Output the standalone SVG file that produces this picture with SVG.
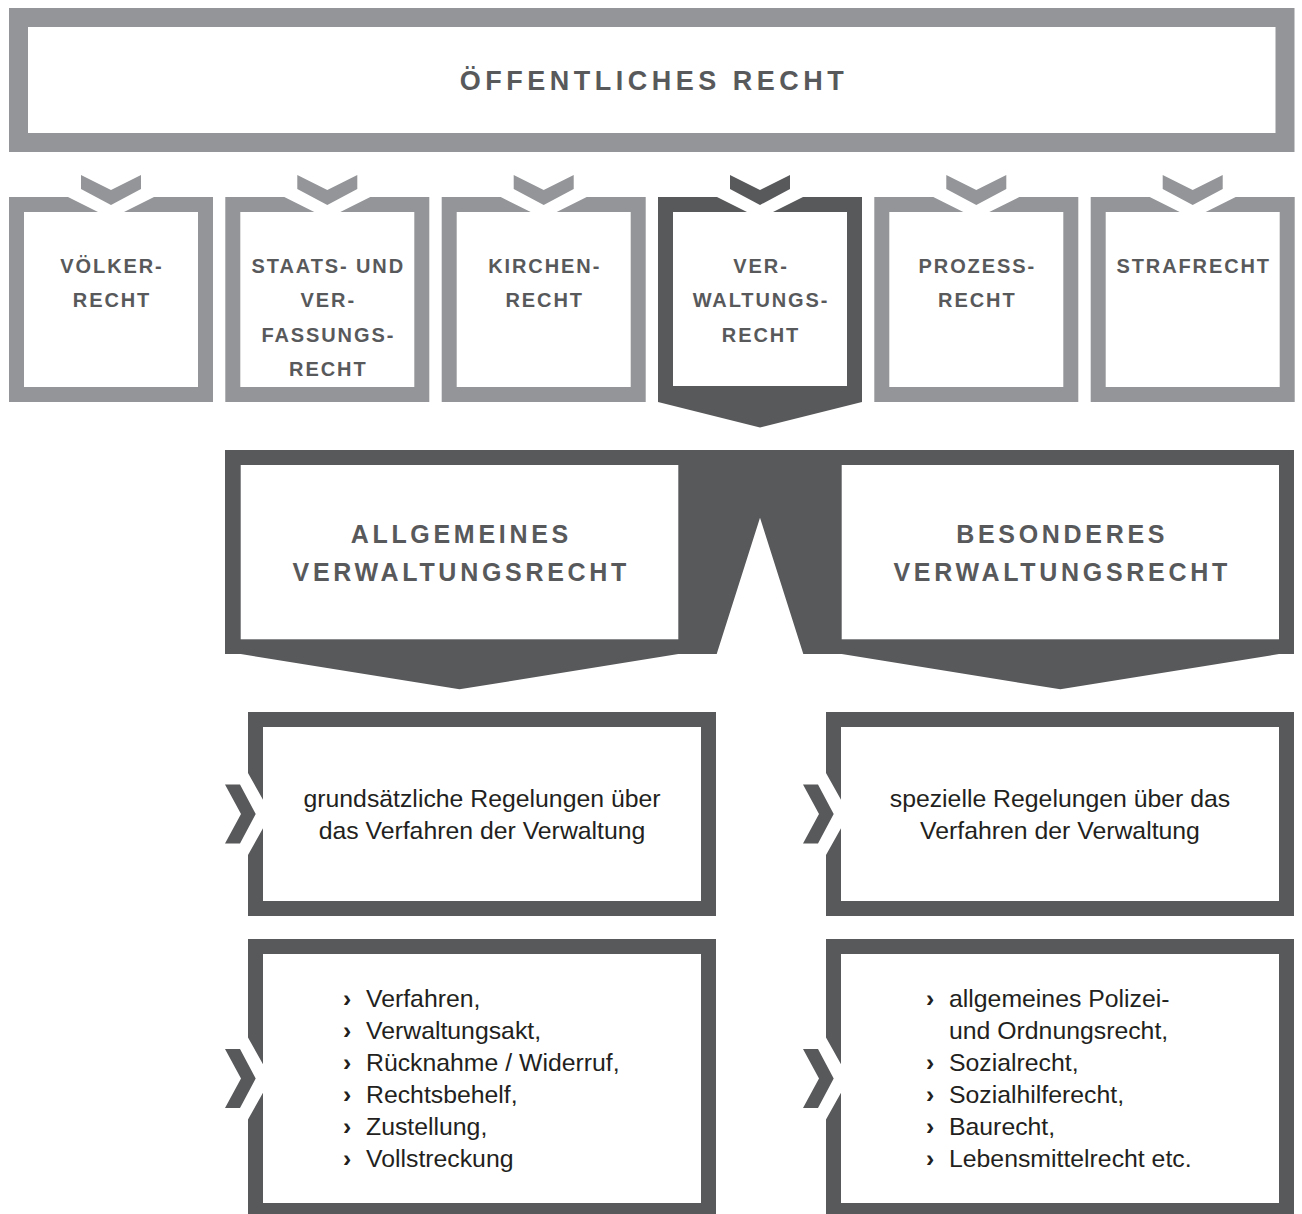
<svg xmlns="http://www.w3.org/2000/svg" width="1302" height="1214" viewBox="0 0 1302 1214">
  <style>
    .gray { fill: #939598; }
    .dark { fill: #58595b; }
    .inner { fill: #ffffff; }
    .cap { font-family: "Liberation Sans", Arial, sans-serif; font-weight: bold; fill: #58595b; text-anchor: middle; }
    .t1 { font-size: 27px; letter-spacing: 4.5px; }
    .t2 { font-size: 20px; letter-spacing: 1.9px; }
    .t3 { font-size: 25px; letter-spacing: 3.7px; }
    .body { font-family: "Liberation Sans", Arial, sans-serif; font-size: 24.8px; fill: #231f20; }
    .mid { text-anchor: middle; }
    .bul { font-weight: bold; }
  </style>
  <defs>
    <!-- chevron above each category box, centred on x=0 -->
    <polygon id="chevDown" points="-30,175 0,190 30,175 30,189 0,205 -30,189"/>
    <!-- chevron to the left of each detail box, centred on y=0, box edge at x=0 -->
    <polygon id="chevRight" points="-23,-29.5 -8,-29.5 7.7,0 -8,29.5 -23,29.5 -7,0"/>
  </defs>

  <!-- top node -->
  <g id="node-oeffentliches-recht">
    <rect class="gray" x="9" y="8" width="1285.5" height="144"/>
    <rect class="inner" x="28" y="27" width="1247.5" height="106"/>
    <text class="cap t1" x="654" y="90">ÖFFENTLICHES RECHT</text>
  </g>

  <!-- category boxes -->
  <g id="node-voelkerrecht" transform="translate(111,0)">
    <use href="#chevDown" class="gray"/>
    <path class="gray" d="M-102,197 H-43 L-13,212 H13 L43,197 H102 V402 H-102 Z"/>
    <rect class="inner" x="-87" y="212" width="174" height="175"/>
    <text class="cap t2" x="1" y="273">VÖLKER-</text>
    <text class="cap t2" x="1" y="307">RECHT</text>
  </g>
  <g id="node-staatsrecht" transform="translate(327.3,0)">
    <use href="#chevDown" class="gray"/>
    <path class="gray" d="M-102,197 H-43 L-13,212 H13 L43,197 H102 V402 H-102 Z"/>
    <rect class="inner" x="-87" y="212" width="174" height="175"/>
    <text class="cap t2" x="1" y="273">STAATS- UND</text>
    <text class="cap t2" x="1" y="307">VER-</text>
    <text class="cap t2" x="1" y="342">FASSUNGS-</text>
    <text class="cap t2" x="1" y="376">RECHT</text>
  </g>
  <g id="node-kirchenrecht" transform="translate(543.7,0)">
    <use href="#chevDown" class="gray"/>
    <path class="gray" d="M-102,197 H-43 L-13,212 H13 L43,197 H102 V402 H-102 Z"/>
    <rect class="inner" x="-87" y="212" width="174" height="175"/>
    <text class="cap t2" x="1" y="273">KIRCHEN-</text>
    <text class="cap t2" x="1" y="307">RECHT</text>
  </g>
  <g id="node-verwaltungsrecht" transform="translate(760,0)">
    <use href="#chevDown" class="dark"/>
    <path class="dark" d="M-102,197 H-43 L-13,212 H13 L43,197 H102 V402 L0,427.5 L-102,402 Z"/>
    <rect class="inner" x="-87" y="212" width="174" height="174"/>
    <text class="cap t2" x="1" y="273">VER-</text>
    <text class="cap t2" x="1" y="307">WALTUNGS-</text>
    <text class="cap t2" x="1" y="342">RECHT</text>
  </g>
  <g id="node-prozessrecht" transform="translate(976.3,0)">
    <use href="#chevDown" class="gray"/>
    <path class="gray" d="M-102,197 H-43 L-13,212 H13 L43,197 H102 V402 H-102 Z"/>
    <rect class="inner" x="-87" y="212" width="174" height="175"/>
    <text class="cap t2" x="1" y="273">PROZESS-</text>
    <text class="cap t2" x="1" y="307">RECHT</text>
  </g>
  <g id="node-strafrecht" transform="translate(1192.7,0)">
    <use href="#chevDown" class="gray"/>
    <path class="gray" d="M-102,197 H-43 L-13,212 H13 L43,197 H102 V402 H-102 Z"/>
    <rect class="inner" x="-87" y="212" width="174" height="175"/>
    <text class="cap t2" x="1" y="273">STRAFRECHT</text>
  </g>

  <!-- split into general and special administrative law -->
  <g id="connectors">
    <path class="dark" d="M225,450 H1294 V654 H1279 L1060.3,689.3 L841.7,654 H803.3 L760,517.7 L716.7,654 H678.3 L459.5,689.3 L240.7,654 H225 Z"/>
    <use href="#chevRight" class="dark" x="248" y="814"/>
    <use href="#chevRight" class="dark" x="826" y="814"/>
    <use href="#chevRight" class="dark" x="248" y="1078.5"/>
    <use href="#chevRight" class="dark" x="826" y="1078.5"/>
  </g>

  <g id="node-allgemeines">
    <rect class="inner" x="240.7" y="465" width="437.6" height="174.3"/>
    <text class="cap t3" x="461.3" y="543">ALLGEMEINES</text>
    <text class="cap t3" x="461.3" y="581">VERWALTUNGSRECHT</text>
  </g>
  <g id="node-besonderes">
    <rect class="inner" x="841.7" y="465" width="437.3" height="174.3"/>
    <text class="cap t3" x="1062.2" y="543">BESONDERES</text>
    <text class="cap t3" x="1062.2" y="581">VERWALTUNGSRECHT</text>
  </g>

  <!-- detail boxes -->
  <g id="node-allgemein-beschreibung">
    <path class="dark" d="M248,712 H716 V916 H248 V855 L263,828.3 V799.7 L248,773 Z"/>
    <rect class="inner" x="263" y="727" width="438" height="174"/>
    <text class="body mid" x="482" y="807">grundsätzliche Regelungen über</text>
    <text class="body mid" x="482" y="839">das Verfahren der Verwaltung</text>
  </g>
  <g id="node-besonders-beschreibung">
    <path class="dark" d="M826,712 H1294 V916 H826 V855 L841,828.3 V799.7 L826,773 Z"/>
    <rect class="inner" x="841" y="727" width="438" height="174"/>
    <text class="body mid" x="1060" y="807">spezielle Regelungen über das</text>
    <text class="body mid" x="1060" y="839">Verfahren der Verwaltung</text>
  </g>
  <g id="node-allgemein-themen">
    <path class="dark" d="M248,939 H716 V1218 H248 V1119.5 L263,1092.8 V1064.2 L248,1037.5 Z"/>
    <rect class="inner" x="263" y="954" width="438" height="249"/>
    <g class="body">
      <text class="bul" x="343" y="1007">›</text><text x="366" y="1007">Verfahren,</text>
      <text class="bul" x="343" y="1039">›</text><text x="366" y="1039">Verwaltungsakt,</text>
      <text class="bul" x="343" y="1071">›</text><text x="366" y="1071">Rücknahme / Widerruf,</text>
      <text class="bul" x="343" y="1103">›</text><text x="366" y="1103">Rechtsbehelf,</text>
      <text class="bul" x="343" y="1135">›</text><text x="366" y="1135">Zustellung,</text>
      <text class="bul" x="343" y="1167">›</text><text x="366" y="1167">Vollstreckung</text>
    </g>
  </g>
  <g id="node-besonders-themen">
    <path class="dark" d="M826,939 H1294 V1218 H826 V1119.5 L841,1092.8 V1064.2 L826,1037.5 Z"/>
    <rect class="inner" x="841" y="954" width="438" height="249"/>
    <g class="body">
      <text class="bul" x="926" y="1007">›</text><text x="949" y="1007">allgemeines Polizei-</text>
      <text x="949" y="1039">und Ordnungsrecht,</text>
      <text class="bul" x="926" y="1071">›</text><text x="949" y="1071">Sozialrecht,</text>
      <text class="bul" x="926" y="1103">›</text><text x="949" y="1103">Sozialhilferecht,</text>
      <text class="bul" x="926" y="1135">›</text><text x="949" y="1135">Baurecht,</text>
      <text class="bul" x="926" y="1167">›</text><text x="949" y="1167">Lebensmittelrecht etc.</text>
    </g>
  </g>
</svg>
